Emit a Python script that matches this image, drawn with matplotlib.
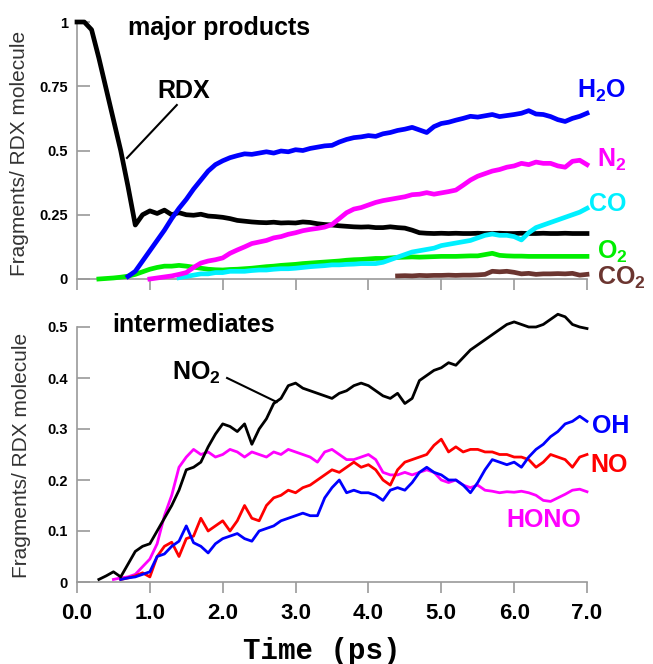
import numpy as np
import matplotlib
matplotlib.use("Agg")
import matplotlib.pyplot as plt

plt.rcParams["font.family"] = ["Liberation Sans", "DejaVu Sans"]
plt.rcParams["mathtext.fontset"] = "custom"
plt.rcParams["mathtext.rm"] = "Liberation Sans:bold"
plt.rcParams["mathtext.bf"] = "Liberation Sans:bold"
plt.rcParams["mathtext.it"] = "Liberation Sans:bold"

# ---- major products (fragments per RDX molecule), sampled every 0.1 ps ----
rdx_t0 = 0.0
rdx = [1.0, 1.0, 0.97, 0.86, 0.74, 0.62, 0.5, 0.36, 0.21, 0.25,
       0.265, 0.255, 0.268, 0.25, 0.258, 0.25, 0.248, 0.252, 0.245, 0.243,
       0.24, 0.235, 0.228, 0.225, 0.222, 0.22, 0.219, 0.221, 0.218, 0.219,
       0.218, 0.222, 0.22, 0.215, 0.212, 0.21, 0.207, 0.205, 0.203, 0.202,
       0.203, 0.2, 0.2, 0.203, 0.2, 0.198, 0.19, 0.18, 0.178, 0.177,
       0.178, 0.177, 0.178, 0.177, 0.177, 0.178, 0.177, 0.177, 0.178, 0.177,
       0.177, 0.178, 0.177, 0.177, 0.178, 0.177, 0.177, 0.178, 0.177, 0.177, 0.177]

h2o_t0 = 0.7
h2o = [0.01, 0.03, 0.07,
       0.11, 0.15, 0.19, 0.235, 0.275, 0.31, 0.35, 0.385, 0.42, 0.445,
       0.46, 0.472, 0.48, 0.487, 0.485, 0.49, 0.495, 0.49, 0.498, 0.495,
       0.503, 0.5, 0.508, 0.513, 0.518, 0.52, 0.533, 0.543, 0.55, 0.553,
       0.558, 0.555, 0.565, 0.57, 0.578, 0.583, 0.59, 0.58, 0.57, 0.593,
       0.605, 0.61, 0.618, 0.625, 0.633, 0.63, 0.635, 0.64, 0.632, 0.636,
       0.64, 0.645, 0.655, 0.642, 0.64, 0.632, 0.62, 0.613, 0.625, 0.633, 0.645]

n2_t0 = 1.0
n2 = [0.0, 0.004, 0.008, 0.012, 0.018, 0.025, 0.045, 0.062, 0.07, 0.075,
      0.082, 0.1, 0.113, 0.125, 0.138, 0.144, 0.15, 0.16, 0.165, 0.174,
      0.18, 0.188, 0.193, 0.197, 0.202, 0.212, 0.235, 0.258, 0.272, 0.278,
      0.288, 0.298, 0.305, 0.31, 0.315, 0.32, 0.328, 0.33, 0.336, 0.33,
      0.335, 0.34, 0.346, 0.365, 0.385, 0.4, 0.41, 0.42, 0.426, 0.435,
      0.44, 0.45, 0.445, 0.455, 0.45, 0.45, 0.44, 0.435, 0.458, 0.462, 0.445]

co_t0 = 1.4
co = [0.005, 0.01, 0.015, 0.02, 0.02, 0.025,
      0.025, 0.03, 0.03, 0.03, 0.033, 0.035, 0.035, 0.038, 0.04, 0.04,
      0.042, 0.045, 0.048, 0.05, 0.052, 0.055, 0.055, 0.057, 0.058, 0.06,
      0.06, 0.06, 0.065, 0.075, 0.085, 0.095, 0.105, 0.11, 0.115, 0.12,
      0.13, 0.135, 0.14, 0.145, 0.15, 0.16, 0.17, 0.175, 0.17, 0.17,
      0.165, 0.152, 0.18, 0.2, 0.21, 0.22, 0.23, 0.24, 0.25, 0.26, 0.275]

o2_t0 = 0.3
o2 = [0.0, 0.002, 0.004, 0.007, 0.011, 0.018, 0.028,
      0.038, 0.045, 0.05, 0.05, 0.053, 0.05, 0.046, 0.042, 0.038, 0.036,
      0.035, 0.037, 0.038, 0.04, 0.042, 0.045, 0.048, 0.05, 0.053, 0.055,
      0.057, 0.06, 0.062, 0.064, 0.066, 0.068, 0.07, 0.073, 0.075, 0.076,
      0.078, 0.08, 0.08, 0.082, 0.084, 0.085, 0.086, 0.085, 0.086, 0.087,
      0.088, 0.088, 0.088, 0.089, 0.09, 0.09, 0.095, 0.1, 0.092, 0.09,
      0.089, 0.089, 0.088, 0.088, 0.088, 0.088, 0.088, 0.088, 0.088, 0.088, 0.088]

co2_t0 = 4.4
co2 = [0.012, 0.013, 0.012, 0.014, 0.013, 0.014,
       0.014, 0.015, 0.014, 0.015, 0.015, 0.016, 0.018, 0.03, 0.028, 0.03,
       0.026, 0.02, 0.022, 0.018, 0.02, 0.02, 0.021, 0.02, 0.022, 0.015, 0.018]

# ---- intermediates ----
no2_t0 = 0.3
no2 = [0.005, 0.012, 0.02, 0.01, 0.035, 0.06, 0.07,
       0.075, 0.1, 0.125, 0.15, 0.18, 0.22, 0.225, 0.235, 0.265, 0.29,
       0.31, 0.305, 0.295, 0.31, 0.27, 0.3, 0.32, 0.35, 0.36, 0.385,
       0.39, 0.38, 0.375, 0.37, 0.365, 0.36, 0.37, 0.375, 0.385, 0.39,
       0.385, 0.375, 0.365, 0.36, 0.37, 0.35, 0.36, 0.395, 0.405, 0.415,
       0.42, 0.43, 0.425, 0.44, 0.455, 0.465, 0.475, 0.485, 0.495, 0.505,
       0.51, 0.505, 0.5, 0.5, 0.505, 0.515, 0.525, 0.52, 0.505, 0.5, 0.497]

hono_t0 = 0.5
hono = [0.005, 0.008, 0.01, 0.015, 0.03,
        0.045, 0.075, 0.13, 0.17, 0.225, 0.245, 0.26, 0.25, 0.255, 0.245,
        0.25, 0.26, 0.255, 0.245, 0.255, 0.25, 0.245, 0.255, 0.25, 0.26,
        0.255, 0.25, 0.245, 0.235, 0.255, 0.26, 0.25, 0.24, 0.24, 0.245,
        0.25, 0.24, 0.215, 0.21, 0.21, 0.215, 0.21, 0.215, 0.22, 0.215,
        0.2, 0.195, 0.2, 0.19, 0.185, 0.19, 0.18, 0.178, 0.175, 0.177,
        0.176, 0.178, 0.175, 0.17, 0.16, 0.158, 0.165, 0.172, 0.18, 0.182, 0.177]

no_t0 = 0.6
no = [0.005, 0.008, 0.012, 0.018,
      0.01, 0.05, 0.07, 0.078, 0.05, 0.085, 0.09, 0.125, 0.1, 0.11,
      0.12, 0.1, 0.12, 0.15, 0.125, 0.12, 0.15, 0.165, 0.17, 0.18,
      0.175, 0.185, 0.19, 0.2, 0.21, 0.22, 0.215, 0.225, 0.235, 0.225,
      0.23, 0.22, 0.2, 0.19, 0.22, 0.235, 0.24, 0.245, 0.25, 0.268,
      0.28, 0.255, 0.265, 0.255, 0.26, 0.26, 0.255, 0.255, 0.25, 0.25,
      0.245, 0.245, 0.24, 0.225, 0.235, 0.25, 0.245, 0.24, 0.225, 0.245, 0.25]

oh_t0 = 0.6
oh = [0.005, 0.008, 0.01, 0.015,
      0.02, 0.05, 0.055, 0.07, 0.08, 0.11, 0.077, 0.07, 0.057, 0.075,
      0.085, 0.09, 0.095, 0.085, 0.08, 0.1, 0.105, 0.11, 0.12, 0.125,
      0.13, 0.135, 0.13, 0.13, 0.165, 0.185, 0.2, 0.175, 0.18, 0.175,
      0.175, 0.17, 0.16, 0.18, 0.185, 0.18, 0.195, 0.215, 0.225, 0.215,
      0.21, 0.2, 0.2, 0.19, 0.175, 0.195, 0.22, 0.24, 0.235, 0.23,
      0.235, 0.225, 0.245, 0.26, 0.27, 0.285, 0.295, 0.31, 0.315, 0.325, 0.315]

t_end = 7.0
x_ticks = [0, 1, 2, 3, 4, 5, 6, 7]
x_ticklabels = ["0.0", "1.0", "2.0", "3.0", "4.0", "5.0", "6.0", "7.0"]
top_yticks = [0, 0.25, 0.5, 0.75, 1]
top_yticklabels = ["0", "0.25", "0.5", "0.75", "1"]
bot_yticks = [0, 0.1, 0.2, 0.3, 0.4, 0.5]
bot_yticklabels = ["0", "0.1", "0.2", "0.3", "0.4", "0.5"]


def times(t0, vals):
    return np.linspace(t0, t_end, len(vals))


W, H = 653, 664
fig = plt.figure(figsize=(W / 100, H / 100), dpi=100)
left, width = 77 / W, 510 / W
ax1 = fig.add_axes([left, 1 - 279 / H, width, 257 / H])
ax2 = fig.add_axes([left, 1 - 582 / H, width, 255 / H])

gray = "#9a9a9a"
for ax in (ax1, ax2):
    for s in ("top", "right"):
        ax.spines[s].set_visible(False)
    for s in ("left", "bottom"):
        ax.spines[s].set_color(gray)
        ax.spines[s].set_linewidth(1.2)
    ax.set_xlim(0, 7)
    ax.set_xticks(x_ticks)
    ax.tick_params(axis="x", direction="out", length=8, width=1.2, color=gray, pad=7)
    ax.tick_params(axis="y", direction="in", length=9.5, width=1.2, color=gray, pad=6.5)
    ax.patch.set_visible(False)

# top panel: thick traces
ax1.set_ylim(0, 1)
ax1.set_yticks(top_yticks)
ax1.set_yticklabels(top_yticklabels, fontsize=10.5, fontweight="bold")
ax1.set_xticklabels([])

top_style = dict(lw=3.4, clip_on=False)
ax1.plot(times(rdx_t0, rdx), rdx, color="black", zorder=3, **top_style)
ax1.plot(times(o2_t0, o2), o2, color="#00ee00", zorder=4, **top_style)
ax1.plot(times(co_t0, co), co, color="#00f0ff", zorder=5, **top_style)
ax1.plot(times(n2_t0, n2), n2, color="#ff00ff", zorder=6, **top_style)
ax1.plot(times(h2o_t0, h2o), h2o, color="#0000ff", zorder=7, **top_style)
ax1.plot(times(co2_t0, co2), co2, color="#6b3530", zorder=8, **top_style)

lab = dict(fontsize=18, fontweight="bold", ha="left", va="baseline")
ax1.text(0.70, 0.95, "major products", color="black", **lab)
ax1.text(1.10, 0.704, "RDX", color="black", **lab)
ax1.plot([1.37, 0.686], [0.677, 0.471], color="black", lw=1.5, zorder=9)
ax1.text(6.86, 0.704, r"$\mathbf{H_2O}$", color="#0000ff", **lab)
ax1.text(7.14, 0.436, r"$\mathbf{N_2}$", color="#ff00ff", **lab)
ax1.text(7.03, 0.265, "CO", color="#00f0ff", **lab)
ax1.text(7.14, 0.080, r"$\mathbf{O_2}$", color="#00ee00", **lab)
ax1.text(7.14, -0.023, r"$\mathbf{CO_2}$", color="#6b3530", **lab)

# bottom panel: thinner traces
ax2.set_ylim(0, 0.5)
ax2.set_yticks(bot_yticks)
ax2.set_yticklabels(bot_yticklabels, fontsize=10.5, fontweight="bold")
ax2.set_xticklabels(x_ticklabels, fontsize=16, fontweight="bold")

bot_style = dict(lw=2.0, clip_on=False)
ax2.plot(times(hono_t0, hono), hono, color="#ff00ff", zorder=3, **bot_style)
ax2.plot(times(no_t0, no), no, color="#ff0000", zorder=4, **bot_style)
ax2.plot(times(oh_t0, oh), oh, color="#0000ff", zorder=5, **bot_style)
ax2.plot(times(no2_t0, no2), no2, color="black", zorder=6, **bot_style)

ax2.text(0.49, 0.49, "intermediates", color="black", **lab)
ax2.text(1.30, 0.396, r"$\mathbf{NO_2}$", color="black", **lab)
ax2.plot([2.06, 2.74], [0.40, 0.353], color="black", lw=1.5, zorder=7)
ax2.text(7.07, 0.292, "OH", color="#0000ff", **lab)
ax2.text(7.05, 0.216, "NO", color="#ff0000", **lab)
ax2.text(5.90, 0.108, "HONO", color="#ff00ff", **lab)

ylab = dict(fontsize=15, rotation=90, ha="center", va="center", color="#333333")
fig.text(20 / W, 1 - 153.5 / H, "Fragments/ RDX molecule", **ylab)
fig.text(22 / W, 1 - 455 / H, "Fragments/ RDX molecule", **ylab)
fig.text(322 / W, 1 - 659 / H, "Time (ps)", fontsize=21, fontweight="bold",
         family="Liberation Mono", ha="center", va="baseline")

fig.savefig("out.png", dpi=100)
